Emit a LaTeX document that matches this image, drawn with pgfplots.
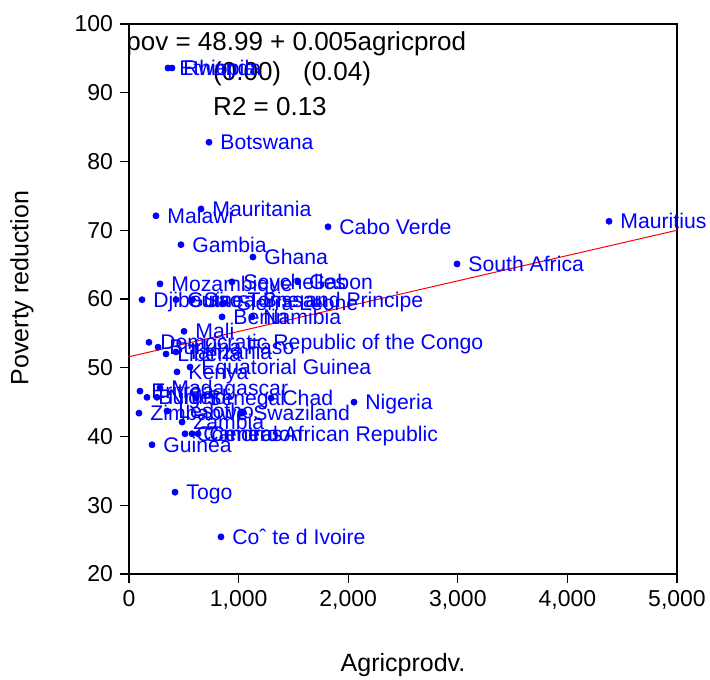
\documentclass[border=0pt]{standalone}
\usepackage{fontspec}
\setmainfont{Liberation Sans}
\usepackage{pgfplots}
\pgfplotsset{compat=1.18}
\begin{document}
\begin{tikzpicture}
\begin{axis}[
 scale only axis, width=274pt, height=275pt,
 xmin=0, xmax=5000, ymin=20, ymax=100,
 xtick={0,1000,2000,3000,4000,5000}, ytick={20,30,40,50,60,70,80,90,100},
 tick align=outside, xtick pos=bottom, ytick pos=left,
 major tick length=4.5pt, minor tick num=0,
 /pgf/number format/assume math mode=true,
 /pgf/number format/1000 sep={,},
 scaled x ticks=false,
 tick label style={font=\fontsize{11.5}{13}\selectfont},
 axis line style={line width=0.6pt}, tick style={black, line width=0.6pt},
 clip=false,
 xlabel={\fontsize{12.5}{14}\selectfont Agricprodv.}, ylabel={\fontsize{12.5}{14}\selectfont Poverty reduction},
 every axis x label/.style={at={(axis description cs:0.5,-0.1655)}, anchor=center},
 every axis y label/.style={at={(axis description cs:-0.1953,0.52)}, anchor=center, rotate=90},
]
\coordinate (bl) at (rel axis cs:0,0);
\coordinate (tr) at (rel axis cs:1,1);
\addplot[red, line width=0.5pt] coordinates {(0,51.6) (5000,70.0)};
\addplot[only marks, mark=*, mark size=1.5pt, color=blue,
 point meta=explicit symbolic, nodes near coords,
 every node near coord/.append style={anchor=west, font=\fontsize{10.6}{12}\selectfont, text=blue, inner sep=0pt, text height=7.6pt, text depth=0pt, xshift=5.5pt}]
coordinates {
(356,93.6) [Ethiopia]
(392,93.6) [Rwanda]
(730,82.8) [Botswana]
(657,73.1) [Mauritania]
(246,72.1) [Malawi]
(1816,70.5) [Cabo Verde]
(4380,71.3) [Mauritius]
(474,67.9) [Gambia]
(1131,66.1) [Ghana]
(2993,65.1) [South Africa]
(283,62.2) [Mozambique]
(940,62.5) [Seychelles]
(1540,62.5) [Gabon]
(119,59.9) [Djibouti]
(429,59.9) [Guinea-Bissau]
(580,59.9) [Sao Tome and Principe]
(880,59.4) [Sierra Leone]
(849,57.4) [Benin]
(1122,57.4) [Namibia]
(502,55.3) [Mali]
(182,53.7) [Democratic Republic of the Congo]
(265,53.0) [Burkina Faso]
(338,52.0) [Liberia]
(429,52.3) [Tanzania]
(557,50.1) [Equatorial Guinea]
(438,49.4) [Kenya]
(283,47.1) [Madagascar]
(100,46.6) [Eritrea]
(164,45.7) [Burundi]
(255,45.7) [Niger]
(611,45.6) [Senegal]
(1296,45.6) [Chad]
(2053,45.0) [Nigeria]
(1030,43.4) [Swaziland]
(347,43.7) [Lesotho]
(91,43.4) [Zimbabwe]
(484,42.1) [Zambia]
(511,40.4) [Comoros]
(575,40.4) [Cameroon]
(630,40.4) [Central African Republic]
(210,38.8) [Guinea]
(420,31.9) [Togo]
(839,25.4) [Coˆ te d Ivoire]
};
\node[anchor=base west, inner sep=0pt, font=\fontsize{13}{15}\selectfont] at (rel axis cs:-0.0055,0.9527) {pov = 48.99 + 0.005agricprod};
\node[anchor=base west, inner sep=0pt, font=\fontsize{13}{15}\selectfont] at (rel axis cs:0.153,0.898) {(0.00)};
\node[anchor=base west, inner sep=0pt, font=\fontsize{13}{15}\selectfont] at (rel axis cs:0.317,0.898) {(0.04)};
\node[anchor=base west, inner sep=0pt, font=\fontsize{13}{15}\selectfont] at (rel axis cs:0.153,0.8345) {R2 = 0.13};
\end{axis}
\path (bl) ++(-64.5pt,-52.5pt) coordinate (BB1);
\path (tr) ++(16.5pt,12pt) coordinate (BB2);
\pgfresetboundingbox
\path[use as bounding box] (BB1) rectangle (BB2);
\end{tikzpicture}
\end{document}
